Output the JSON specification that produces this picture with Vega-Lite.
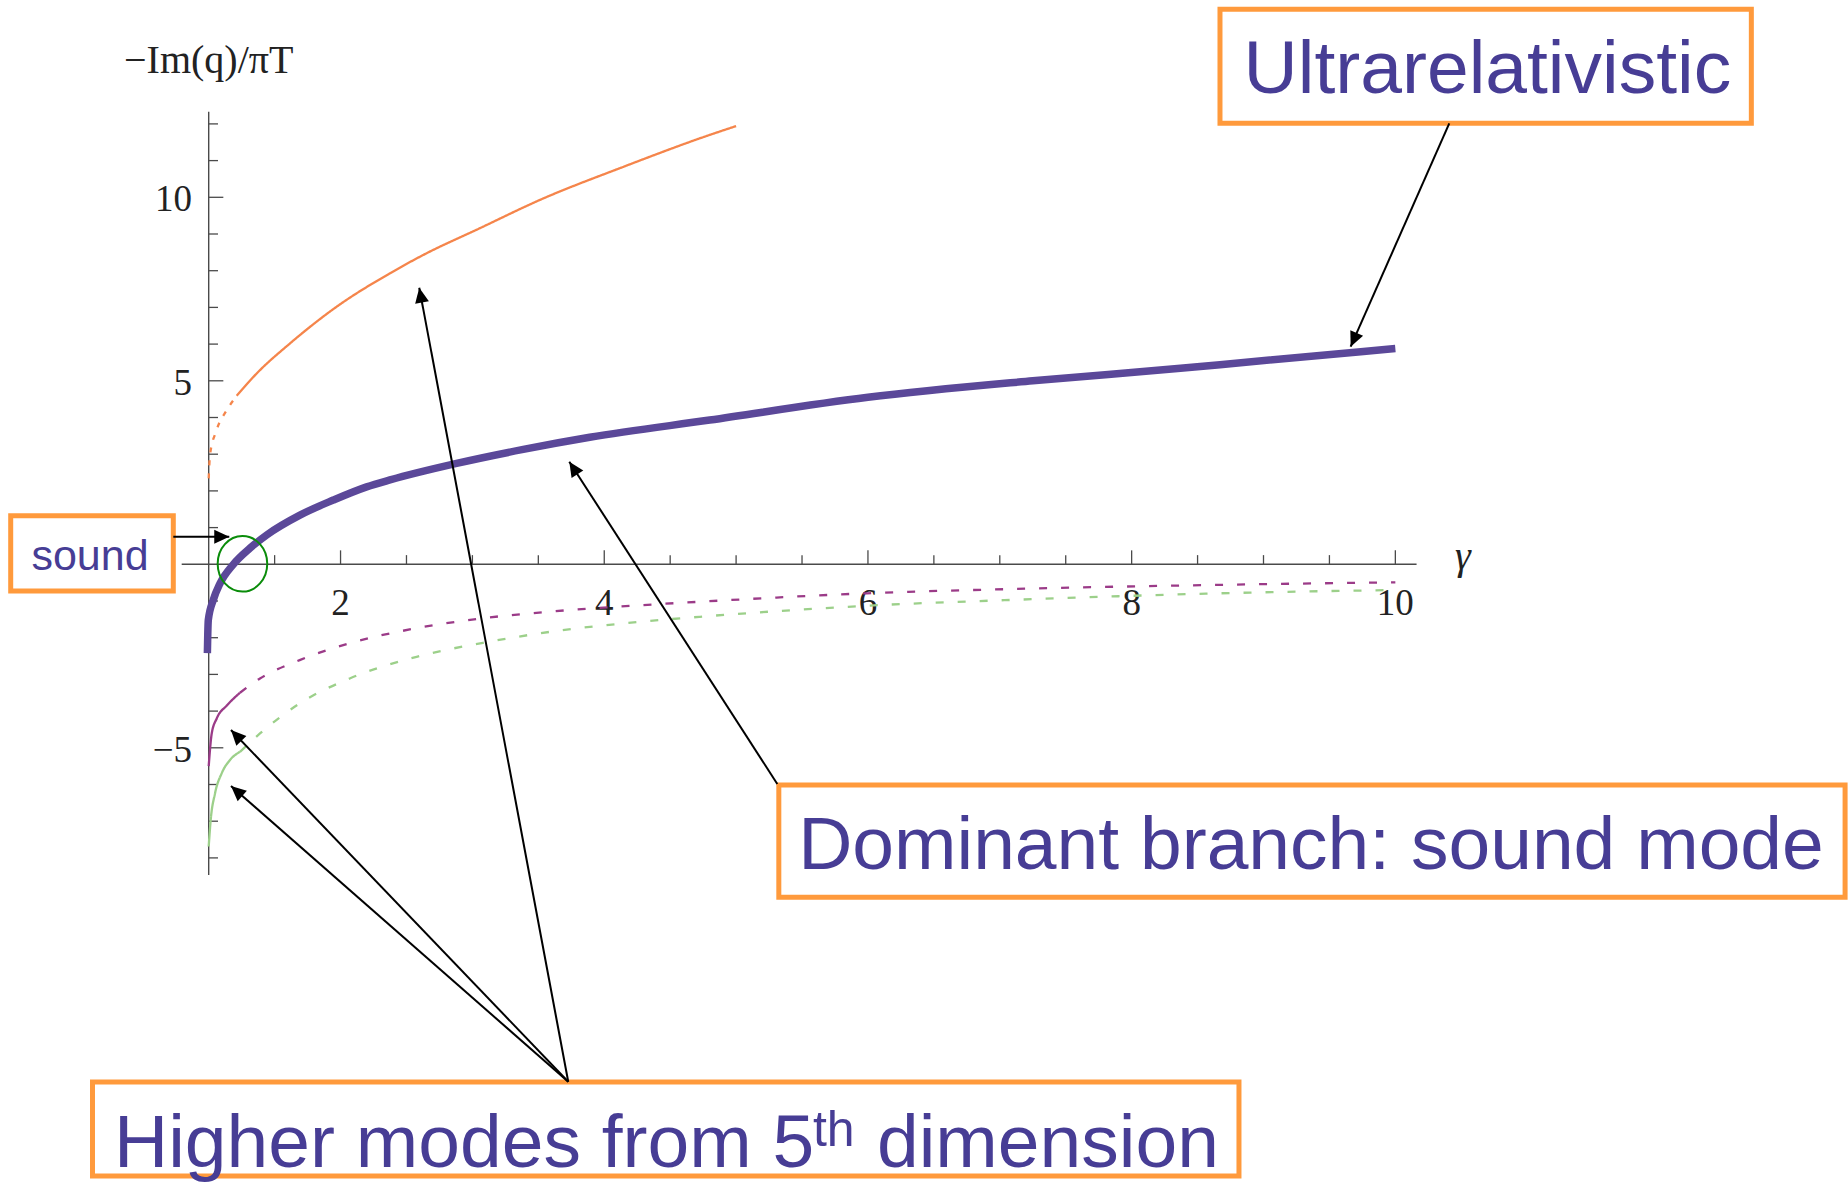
{
  "$schema": "https://vega.github.io/schema/vega-lite/v6.json",
  "width": 1848,
  "height": 1196,
  "autosize": {"type": "none"},
  "padding": 0,
  "background": "white",
  "config": {"view": {"stroke": null}},
  "datasets": {
    "curves": [
      {"series": "orange", "seg": "o1", "style": "short", "x": 1.0, "y": 2.34},
      {"series": "orange", "seg": "o1", "style": "short", "x": 1.01, "y": 2.98},
      {"series": "orange", "seg": "o1", "style": "short", "x": 1.055, "y": 3.61},
      {"series": "orange", "seg": "o1", "style": "short", "x": 1.137, "y": 4.2},
      {"series": "orange", "seg": "o1", "style": "short", "x": 1.212, "y": 4.59},
      {"series": "orange", "seg": "o2", "style": "solid", "x": 1.212, "y": 4.59},
      {"series": "orange", "seg": "o2", "style": "solid", "x": 1.364, "y": 5.2},
      {"series": "orange", "seg": "o2", "style": "solid", "x": 1.617, "y": 6.02},
      {"series": "orange", "seg": "o2", "style": "solid", "x": 1.971, "y": 7.02},
      {"series": "orange", "seg": "o2", "style": "solid", "x": 2.375, "y": 7.93},
      {"series": "orange", "seg": "o2", "style": "solid", "x": 2.628, "y": 8.43},
      {"series": "orange", "seg": "o2", "style": "solid", "x": 3.058, "y": 9.16},
      {"series": "orange", "seg": "o2", "style": "solid", "x": 3.513, "y": 9.93},
      {"series": "orange", "seg": "o2", "style": "solid", "x": 4.145, "y": 10.83},
      {"series": "orange", "seg": "o2", "style": "solid", "x": 4.8, "y": 11.7},
      {"series": "orange", "seg": "o2", "style": "solid", "x": 5.0, "y": 11.94},
      {"series": "magenta", "seg": "m1", "style": "solid", "x": 1.0, "y": -5.5},
      {"series": "magenta", "seg": "m1", "style": "solid", "x": 1.023, "y": -4.61},
      {"series": "magenta", "seg": "m1", "style": "solid", "x": 1.061, "y": -4.2},
      {"series": "magenta", "seg": "m1", "style": "solid", "x": 1.137, "y": -3.85},
      {"series": "magenta", "seg": "m1", "style": "solid", "x": 1.237, "y": -3.5},
      {"series": "magenta", "seg": "m2", "style": "dashed", "x": 1.237, "y": -3.5},
      {"series": "magenta", "seg": "m2", "style": "dashed", "x": 1.389, "y": -3.11},
      {"series": "magenta", "seg": "m2", "style": "dashed", "x": 1.69, "y": -2.61},
      {"series": "magenta", "seg": "m2", "style": "dashed", "x": 2.07, "y": -2.15},
      {"series": "magenta", "seg": "m2", "style": "dashed", "x": 2.577, "y": -1.74},
      {"series": "magenta", "seg": "m2", "style": "dashed", "x": 3.08, "y": -1.47},
      {"series": "magenta", "seg": "m2", "style": "dashed", "x": 3.59, "y": -1.29},
      {"series": "magenta", "seg": "m2", "style": "dashed", "x": 4.296, "y": -1.11},
      {"series": "magenta", "seg": "m2", "style": "dashed", "x": 4.726, "y": -1.02},
      {"series": "magenta", "seg": "m2", "style": "dashed", "x": 5.99, "y": -0.79},
      {"series": "magenta", "seg": "m2", "style": "dashed", "x": 7.25, "y": -0.66},
      {"series": "magenta", "seg": "m2", "style": "dashed", "x": 8.67, "y": -0.56},
      {"series": "magenta", "seg": "m2", "style": "dashed", "x": 10.0, "y": -0.49},
      {"series": "green", "seg": "g1", "style": "solid", "x": 1.0, "y": -7.69},
      {"series": "green", "seg": "g1", "style": "solid", "x": 1.015, "y": -6.97},
      {"series": "green", "seg": "g1", "style": "solid", "x": 1.048, "y": -6.24},
      {"series": "green", "seg": "g1", "style": "solid", "x": 1.099, "y": -5.69},
      {"series": "green", "seg": "g1", "style": "solid", "x": 1.162, "y": -5.33},
      {"series": "green", "seg": "g1", "style": "solid", "x": 1.237, "y": -5.11},
      {"series": "green", "seg": "g2", "style": "dashed", "x": 1.237, "y": -5.11},
      {"series": "green", "seg": "g2", "style": "dashed", "x": 1.389, "y": -4.61},
      {"series": "green", "seg": "g2", "style": "dashed", "x": 1.69, "y": -3.79},
      {"series": "green", "seg": "g2", "style": "dashed", "x": 2.07, "y": -3.11},
      {"series": "green", "seg": "g2", "style": "dashed", "x": 2.577, "y": -2.52},
      {"series": "green", "seg": "g2", "style": "dashed", "x": 3.08, "y": -2.14},
      {"series": "green", "seg": "g2", "style": "dashed", "x": 3.59, "y": -1.84},
      {"series": "green", "seg": "g2", "style": "dashed", "x": 4.296, "y": -1.56},
      {"series": "green", "seg": "g2", "style": "dashed", "x": 4.726, "y": -1.43},
      {"series": "green", "seg": "g2", "style": "dashed", "x": 5.99, "y": -1.13},
      {"series": "green", "seg": "g2", "style": "dashed", "x": 7.25, "y": -0.95},
      {"series": "green", "seg": "g2", "style": "dashed", "x": 8.67, "y": -0.79},
      {"series": "green", "seg": "g2", "style": "dashed", "x": 10.0, "y": -0.7}
    ],
    "dominant": [
      {"x": 0.99, "y": -2.42},
      {"x": 0.993, "y": -1.9},
      {"x": 0.997, "y": -1.52},
      {"x": 1.035, "y": -0.97},
      {"x": 1.086, "y": -0.52},
      {"x": 1.187, "y": 0.0},
      {"x": 1.313, "y": 0.44},
      {"x": 1.44, "y": 0.8},
      {"x": 1.692, "y": 1.34},
      {"x": 1.945, "y": 1.75},
      {"x": 2.198, "y": 2.11},
      {"x": 2.375, "y": 2.3},
      {"x": 2.88, "y": 2.75},
      {"x": 3.386, "y": 3.13},
      {"x": 3.89, "y": 3.46},
      {"x": 4.8, "y": 3.93},
      {"x": 6.0, "y": 4.55},
      {"x": 7.25, "y": 5.0},
      {"x": 8.37, "y": 5.34},
      {"x": 8.67, "y": 5.44},
      {"x": 10.0, "y": 5.88}
    ],
    "axisLines": [
      {"x": 0.7952, "y": 0, "x2": 10.161, "y2": 0},
      {"x": 1, "y": -8.466, "x2": 1, "y2": 12.33}
    ],
    "ticks": [
      {"x": 2, "y": 0, "x2": 2, "y2": 0.38},
      {"x": 4, "y": 0, "x2": 4, "y2": 0.38},
      {"x": 6, "y": 0, "x2": 6, "y2": 0.38},
      {"x": 8, "y": 0, "x2": 8, "y2": 0.38},
      {"x": 10, "y": 0, "x2": 10, "y2": 0.38},
      {"x": 1.5, "y": 0, "x2": 1.5, "y2": 0.25},
      {"x": 2.5, "y": 0, "x2": 2.5, "y2": 0.25},
      {"x": 3, "y": 0, "x2": 3, "y2": 0.25},
      {"x": 3.5, "y": 0, "x2": 3.5, "y2": 0.25},
      {"x": 4.5, "y": 0, "x2": 4.5, "y2": 0.25},
      {"x": 5, "y": 0, "x2": 5, "y2": 0.25},
      {"x": 5.5, "y": 0, "x2": 5.5, "y2": 0.25},
      {"x": 6.5, "y": 0, "x2": 6.5, "y2": 0.25},
      {"x": 7, "y": 0, "x2": 7, "y2": 0.25},
      {"x": 7.5, "y": 0, "x2": 7.5, "y2": 0.25},
      {"x": 8.5, "y": 0, "x2": 8.5, "y2": 0.25},
      {"x": 9, "y": 0, "x2": 9, "y2": 0.25},
      {"x": 9.5, "y": 0, "x2": 9.5, "y2": 0.25},
      {"x": 1, "y": -5, "x2": 1.111, "y2": -5},
      {"x": 1, "y": 5, "x2": 1.111, "y2": 5},
      {"x": 1, "y": 10, "x2": 1.111, "y2": 10},
      {"x": 1, "y": -8, "x2": 1.0705, "y2": -8},
      {"x": 1, "y": -7, "x2": 1.0705, "y2": -7},
      {"x": 1, "y": -6, "x2": 1.0705, "y2": -6},
      {"x": 1, "y": -4, "x2": 1.0705, "y2": -4},
      {"x": 1, "y": -3, "x2": 1.0705, "y2": -3},
      {"x": 1, "y": -2, "x2": 1.0705, "y2": -2},
      {"x": 1, "y": -1, "x2": 1.0705, "y2": -1},
      {"x": 1, "y": 1, "x2": 1.0705, "y2": 1},
      {"x": 1, "y": 2, "x2": 1.0705, "y2": 2},
      {"x": 1, "y": 3, "x2": 1.0705, "y2": 3},
      {"x": 1, "y": 4, "x2": 1.0705, "y2": 4},
      {"x": 1, "y": 6, "x2": 1.0705, "y2": 6},
      {"x": 1, "y": 7, "x2": 1.0705, "y2": 7},
      {"x": 1, "y": 8, "x2": 1.0705, "y2": 8},
      {"x": 1, "y": 9, "x2": 1.0705, "y2": 9},
      {"x": 1, "y": 11, "x2": 1.0705, "y2": 11},
      {"x": 1, "y": 12, "x2": 1.0705, "y2": 12}
    ],
    "xLabels": [
      {"x": 2, "y": -1.37, "text": "2"},
      {"x": 4, "y": -1.37, "text": "4"},
      {"x": 6, "y": -1.37, "text": "6"},
      {"x": 8, "y": -1.37, "text": "8"},
      {"x": 10, "y": -1.37, "text": "10"}
    ],
    "yLabels": [
      {"x": 0.874, "y": 10, "text": "10"},
      {"x": 0.874, "y": 5, "text": "5"},
      {"x": 0.874, "y": -5, "text": "\u22125"}
    ],
    "boxes": [
      {"x": 8.67, "x2": 12.7, "y": 15.125, "y2": 12.016},
      {"x": -0.5017, "x2": 0.7315, "y": 1.324, "y2": -0.7275},
      {"x": 5.324, "x2": 13.411, "y": -6.014, "y2": -9.074},
      {"x": 0.1187, "x2": 8.814, "y": -14.106, "y2": -16.668}
    ],
    "arrows": [
      {"x": 10.409, "y": 12.016, "x2": 9.661, "y2": 5.929, "angle": 203.8},
      {"x": 0.7315, "y": 0.752, "x2": 1.156, "y2": 0.752, "angle": 90},
      {"x": 5.3125, "y": -5.986, "x2": 3.735, "y2": 2.796, "angle": 327.2},
      {"x": 3.727, "y": -14.098, "x2": 2.597, "y2": 7.537, "angle": 349.4},
      {"x": 3.727, "y": -14.098, "x2": 1.169, "y2": -4.515, "angle": 316.2},
      {"x": 3.727, "y": -14.098, "x2": 1.169, "y2": -6.041, "angle": 311.2}
    ],
    "ring": [{"x": 1.256, "y": 0.0136}],
    "bigCentered": [
      {"x": 10.698, "y": 12.83, "text": "Ultrarelativistic"},
      {"x": 9.36, "y": -8.311, "text": "Dominant branch: sound mode"}
    ],
    "bigLeft": [
      {"x": 0.2818, "y": -16.431, "text": "Higher modes from 5"},
      {"x": 6.0686, "y": -16.431, "text": "dimension"}
    ],
    "supText": [{"x": 5.583, "y": -15.85, "text": "th"}],
    "soundText": [{"x": 0.0997, "y": -0.155, "text": "sound"}],
    "yTitle": [{"x": 1.0, "y": 13.395, "text": "\u2212Im(q)/\u03c0T"}],
    "xTitle": [{"x": 10.513, "y": -0.12, "text": "\u03b3"}]
  },
  "layer": [
    {
      "data": {"name": "boxes"},
      "mark": {"type": "rect", "fill": "white", "stroke": "#FF9A3C", "strokeWidth": 5},
      "encoding": {
        "x": {"field": "x", "type": "quantitative", "scale": {"domain": [-0.58286, 13.4331], "nice": false, "zero": false}, "axis": null},
        "x2": {"field": "x2"},
        "y": {"field": "y", "type": "quantitative", "scale": {"domain": [-17.2125, 15.376], "nice": false, "zero": false}, "axis": null},
        "y2": {"field": "y2"}
      }
    },
    {
      "data": {"name": "axisLines"},
      "mark": {"type": "rule", "color": "#4a4a4a", "strokeWidth": 1.4},
      "encoding": {
        "x": {"field": "x", "type": "quantitative", "scale": {"domain": [-0.58286, 13.4331], "nice": false, "zero": false}, "axis": null},
        "x2": {"field": "x2"},
        "y": {"field": "y", "type": "quantitative", "scale": {"domain": [-17.2125, 15.376], "nice": false, "zero": false}, "axis": null},
        "y2": {"field": "y2"}
      }
    },
    {
      "data": {"name": "ticks"},
      "mark": {"type": "rule", "color": "#4a4a4a", "strokeWidth": 1.3},
      "encoding": {
        "x": {"field": "x", "type": "quantitative", "scale": {"domain": [-0.58286, 13.4331], "nice": false, "zero": false}, "axis": null},
        "x2": {"field": "x2"},
        "y": {"field": "y", "type": "quantitative", "scale": {"domain": [-17.2125, 15.376], "nice": false, "zero": false}, "axis": null},
        "y2": {"field": "y2"}
      }
    },
    {
      "data": {"name": "xLabels"},
      "mark": {"type": "text", "font": "Liberation Serif", "fontSize": 37, "align": "center", "baseline": "alphabetic", "color": "#222222"},
      "encoding": {
        "x": {"field": "x", "type": "quantitative", "scale": {"domain": [-0.58286, 13.4331], "nice": false, "zero": false}, "axis": null},
        "y": {"field": "y", "type": "quantitative", "scale": {"domain": [-17.2125, 15.376], "nice": false, "zero": false}, "axis": null},
        "text": {"field": "text"}
      }
    },
    {
      "data": {"name": "yLabels"},
      "mark": {"type": "text", "font": "Liberation Serif", "fontSize": 37, "align": "right", "baseline": "middle", "dy": 3, "color": "#222222"},
      "encoding": {
        "x": {"field": "x", "type": "quantitative", "scale": {"domain": [-0.58286, 13.4331], "nice": false, "zero": false}, "axis": null},
        "y": {"field": "y", "type": "quantitative", "scale": {"domain": [-17.2125, 15.376], "nice": false, "zero": false}, "axis": null},
        "text": {"field": "text"}
      }
    },
    {
      "data": {"name": "yTitle"},
      "mark": {"type": "text", "font": "Liberation Serif", "fontSize": 40, "align": "center", "baseline": "alphabetic", "color": "#222222"},
      "encoding": {
        "x": {"field": "x", "type": "quantitative", "scale": {"domain": [-0.58286, 13.4331], "nice": false, "zero": false}, "axis": null},
        "y": {"field": "y", "type": "quantitative", "scale": {"domain": [-17.2125, 15.376], "nice": false, "zero": false}, "axis": null},
        "text": {"field": "text"}
      }
    },
    {
      "data": {"name": "xTitle"},
      "mark": {"type": "text", "font": "Liberation Serif", "fontStyle": "italic", "fontSize": 40, "align": "center", "baseline": "alphabetic", "color": "#222222"},
      "encoding": {
        "x": {"field": "x", "type": "quantitative", "scale": {"domain": [-0.58286, 13.4331], "nice": false, "zero": false}, "axis": null},
        "y": {"field": "y", "type": "quantitative", "scale": {"domain": [-17.2125, 15.376], "nice": false, "zero": false}, "axis": null},
        "text": {"field": "text"}
      }
    },
    {
      "data": {"name": "curves"},
      "mark": {"type": "line", "strokeWidth": 2.3, "interpolate": "monotone"},
      "encoding": {
        "x": {"field": "x", "type": "quantitative", "scale": {"domain": [-0.58286, 13.4331], "nice": false, "zero": false}, "axis": null},
        "y": {"field": "y", "type": "quantitative", "scale": {"domain": [-17.2125, 15.376], "nice": false, "zero": false}, "axis": null},
        "color": {"field": "series", "type": "nominal", "scale": {"domain": ["orange", "magenta", "green"], "range": ["#F5854B", "#9B3B88", "#9CD08A"]}, "legend": null},
        "strokeDash": {"field": "style", "type": "nominal", "scale": {"domain": ["solid", "dashed", "short"], "range": [[1, 0], [8, 14], [5, 8]]}, "legend": null},
        "detail": {"field": "seg"}
      }
    },
    {
      "data": {"name": "dominant"},
      "mark": {"type": "line", "strokeWidth": 7.5, "color": "#5B4899", "interpolate": "monotone", "strokeCap": "butt"},
      "encoding": {
        "x": {"field": "x", "type": "quantitative", "scale": {"domain": [-0.58286, 13.4331], "nice": false, "zero": false}, "axis": null},
        "y": {"field": "y", "type": "quantitative", "scale": {"domain": [-17.2125, 15.376], "nice": false, "zero": false}, "axis": null}
      }
    },
    {
      "data": {"name": "ring"},
      "mark": {"type": "point", "shape": "M-0.892,0 A0.892,1 0 1,1 0.892,0 A0.892,1 0 1,1 -0.892,0 Z", "size": 3091, "filled": false, "stroke": "#0A8C0A", "strokeWidth": 2, "opacity": 1},
      "encoding": {
        "x": {"field": "x", "type": "quantitative", "scale": {"domain": [-0.58286, 13.4331], "nice": false, "zero": false}, "axis": null},
        "y": {"field": "y", "type": "quantitative", "scale": {"domain": [-17.2125, 15.376], "nice": false, "zero": false}, "axis": null}
      }
    },
    {
      "data": {"name": "arrows"},
      "mark": {"type": "rule", "color": "black", "strokeWidth": 2},
      "encoding": {
        "x": {"field": "x", "type": "quantitative", "scale": {"domain": [-0.58286, 13.4331], "nice": false, "zero": false}, "axis": null},
        "x2": {"field": "x2"},
        "y": {"field": "y", "type": "quantitative", "scale": {"domain": [-17.2125, 15.376], "nice": false, "zero": false}, "axis": null},
        "y2": {"field": "y2"}
      }
    },
    {
      "data": {"name": "arrows"},
      "mark": {"type": "point", "shape": "M0,0 L0.93,2 L-0.93,2 Z", "size": 225, "filled": true, "color": "black", "opacity": 1, "strokeWidth": 0},
      "encoding": {
        "x": {"field": "x2", "type": "quantitative", "scale": {"domain": [-0.58286, 13.4331], "nice": false, "zero": false}, "axis": null},
        "y": {"field": "y2", "type": "quantitative", "scale": {"domain": [-17.2125, 15.376], "nice": false, "zero": false}, "axis": null},
        "angle": {"field": "angle", "type": "quantitative", "scale": null}
      }
    },
    {
      "data": {"name": "bigCentered"},
      "mark": {"type": "text", "font": "Liberation Sans", "fontSize": 75, "align": "center", "baseline": "alphabetic", "color": "#473D95"},
      "encoding": {
        "x": {"field": "x", "type": "quantitative", "scale": {"domain": [-0.58286, 13.4331], "nice": false, "zero": false}, "axis": null},
        "y": {"field": "y", "type": "quantitative", "scale": {"domain": [-17.2125, 15.376], "nice": false, "zero": false}, "axis": null},
        "text": {"field": "text"}
      }
    },
    {
      "data": {"name": "bigLeft"},
      "mark": {"type": "text", "font": "Liberation Sans", "fontSize": 75, "align": "left", "baseline": "alphabetic", "color": "#473D95"},
      "encoding": {
        "x": {"field": "x", "type": "quantitative", "scale": {"domain": [-0.58286, 13.4331], "nice": false, "zero": false}, "axis": null},
        "y": {"field": "y", "type": "quantitative", "scale": {"domain": [-17.2125, 15.376], "nice": false, "zero": false}, "axis": null},
        "text": {"field": "text"}
      }
    },
    {
      "data": {"name": "supText"},
      "mark": {"type": "text", "font": "Liberation Sans", "fontSize": 50, "align": "left", "baseline": "alphabetic", "color": "#473D95"},
      "encoding": {
        "x": {"field": "x", "type": "quantitative", "scale": {"domain": [-0.58286, 13.4331], "nice": false, "zero": false}, "axis": null},
        "y": {"field": "y", "type": "quantitative", "scale": {"domain": [-17.2125, 15.376], "nice": false, "zero": false}, "axis": null},
        "text": {"field": "text"}
      }
    },
    {
      "data": {"name": "soundText"},
      "mark": {"type": "text", "font": "Liberation Sans", "fontSize": 43, "align": "center", "baseline": "alphabetic", "color": "#473D95"},
      "encoding": {
        "x": {"field": "x", "type": "quantitative", "scale": {"domain": [-0.58286, 13.4331], "nice": false, "zero": false}, "axis": null},
        "y": {"field": "y", "type": "quantitative", "scale": {"domain": [-17.2125, 15.376], "nice": false, "zero": false}, "axis": null},
        "text": {"field": "text"}
      }
    }
  ]
}
